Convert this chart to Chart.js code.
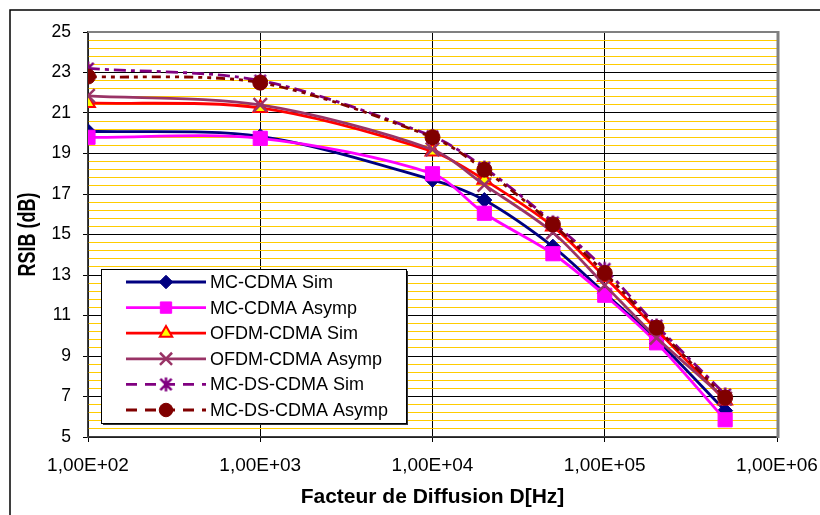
<!DOCTYPE html>
<html><head><meta charset="utf-8">
<script src="https://cdn.jsdelivr.net/npm/chart.js@4.4.1/dist/chart.umd.min.js"></script>
<style>html,body{margin:0;padding:0;background:#fff}#wrap{width:820px;height:515px;position:relative}</style>
</head><body><div id="wrap"><canvas id="c" width="820" height="515"></canvas></div>
<script>
const xValues = [1e2, 1e3, 1e4, 2e4, 5e4, 1e5, 2e5, 5e5];
const xTickValues = [1e2, 1e3, 1e4, 1e5, 1e6];
const xTickLabels = ["1,00E+02", "1,00E+03", "1,00E+04", "1,00E+05", "1,00E+06"];
const yTickValues = [5, 7, 9, 11, 13, 15, 17, 19, 21, 23, 25];
const yMinorStep = 0.4;
const seriesNames = ["MC-CDMA Sim", "MC-CDMA Asymp", "OFDM-CDMA Sim", "OFDM-CDMA Asymp", "MC-DS-CDMA Sim", "MC-DS-CDMA Asymp"];
const mcCdmaSim     = [20.1, 19.85, 17.7, 16.7, 14.4, 12.1, 9.8, 6.3];
const mcCdmaAsymp   = [19.8, 19.75, 18.0, 16.05, 14.05, 12.0, 9.65, 5.85];
const ofdmCdmaSim   = [21.5, 21.25, 19.1, 17.7, 15.4, 12.9, 10.3, 6.8];
const ofdmCdmaAsymp = [21.85, 21.4, 19.2, 17.45, 15.1, 12.5, 9.9, 6.9];
const mcDsCdmaSim   = [23.2, 22.6, 19.85, 18.3, 15.6, 13.3, 10.5, 7.1];
const mcDsCdmaAsymp = [22.8, 22.5, 19.8, 18.2, 15.5, 13.1, 10.4, 6.95];
const xTitle = "Facteur de Diffusion D[Hz]";
const yTitle = "RSIB (dB)";

// Excel-like asterisk marker
function makeAsterisk(color, size) {
  const c = document.createElement('canvas');
  c.width = size; c.height = size;
  const g = c.getContext('2d');
  const m = size / 2, r = size / 2 - 1.5;
  g.strokeStyle = color; g.lineWidth = 2.5; g.lineCap = 'butt';
  g.beginPath();
  g.moveTo(m - r * 0.8, m - r * 0.8); g.lineTo(m + r * 0.8, m + r * 0.8);
  g.moveTo(m + r * 0.8, m - r * 0.8); g.lineTo(m - r * 0.8, m + r * 0.8);
  g.moveTo(m, m - r); g.lineTo(m, m + r);
  g.stroke();
  return c;
}
const asterisk = makeAsterisk('#800080', 17);

const pts = v => xValues.map((x, i) => ({x: x, y: v[i]}));
const styles = [
  {color: '#000080', fill: '#000080', pointStyle: 'rectRot', radius: 7.5, dash: []},
  {color: '#FF00FF', fill: '#FF00FF', pointStyle: 'rect', radius: 10, dash: []},
  {color: '#FF0000', fill: '#FFFF00', pointStyle: 'triangle', radius: 8, dash: [], pbw: 2},
  {color: '#993366', fill: '#993366', pointStyle: 'crossRot', radius: 9.5, dash: [], pbw: 2.5},
  {color: '#800080', fill: '#800080', pointStyle: asterisk, radius: 8, dash: [12, 5, 4, 5]},
  {color: '#800000', fill: '#800000', pointStyle: 'circle', radius: 7.5, dash: [9, 5, 4, 5, 4, 5]},
];
const seriesData = [mcCdmaSim, mcCdmaAsymp, ofdmCdmaSim, ofdmCdmaAsymp, mcDsCdmaSim, mcDsCdmaAsymp];

const datasets = seriesData.map((d, i) => ({
  label: seriesNames[i],
  data: pts(d),
  borderColor: styles[i].color,
  backgroundColor: styles[i].fill,
  borderWidth: 2.8,
  borderDash: styles[i].dash,
  pointStyle: styles[i].pointStyle,
  pointRadius: styles[i].radius,
  pointBackgroundColor: styles[i].fill,
  pointBorderColor: styles[i].color,
  pointBorderWidth: styles[i].pbw || 1,
  tension: 0.3,
  order: -i,
  fill: false
}));

const isMajor = v => Math.abs((v - 5) / 2 - Math.round((v - 5) / 2)) < 1e-6;

const decor = {
  id: 'decor',
  beforeDraw(chart) {
    const ctx = chart.ctx;
    ctx.save();
    ctx.fillStyle = '#fff';
    ctx.fillRect(0, 0, chart.width, chart.height);
    ctx.restore();
  },
  afterDraw(chart) {
    const ctx = chart.ctx, a = chart.chartArea;
    ctx.save();
    // outer frame
    ctx.strokeStyle = '#000'; ctx.lineWidth = 1.5;
    ctx.beginPath(); ctx.moveTo(10, 515); ctx.lineTo(10, 10); ctx.lineTo(820, 10); ctx.stroke();
    // plot frame
    ctx.strokeStyle = '#808080'; ctx.lineWidth = 2;
    ctx.beginPath(); ctx.moveTo(a.left, a.top); ctx.lineTo(a.right, a.top); ctx.stroke();
    ctx.lineWidth = 3;
    ctx.beginPath(); ctx.moveTo(a.right + 1, a.top - 1); ctx.lineTo(a.right + 1, a.bottom + 1); ctx.stroke();
    // axis titles
    ctx.fillStyle = '#000';
    ctx.textAlign = 'center'; ctx.textBaseline = 'middle';
    ctx.font = 'bold 21px "Liberation Sans", Arial, sans-serif';
    ctx.fillText(xTitle, (a.left + a.right) / 2, 497);
    ctx.font = 'bold 18px "Liberation Sans", Arial, sans-serif';
    ctx.translate(29, (a.top + a.bottom) / 2);
    ctx.scale(1.3, 1);
    ctx.rotate(-Math.PI / 2);
    ctx.fillText(yTitle, 0, 0);
    ctx.restore();

    // legend
    ctx.save();
    const L = 101, T = 269, R = 406, B = 423;
    ctx.fillStyle = '#333';
    ctx.fillRect(L + 2, T + 2, R - L, B - T);
    ctx.fillStyle = '#fff';
    ctx.fillRect(L, T, R - L, B - T);
    ctx.strokeStyle = '#000'; ctx.lineWidth = 1;
    ctx.strokeRect(L + 0.5, T + 0.5, R - L, B - T);
    ctx.font = '18px "Liberation Sans", Arial, sans-serif';
    ctx.textAlign = 'left'; ctx.textBaseline = 'middle';
    chart.data.datasets.forEach((ds, i) => {
      const y = 282 + i * 25.6;
      ctx.save();
      ctx.strokeStyle = ds.borderColor; ctx.lineWidth = 2.8;
      ctx.setLineDash(ds.borderDash && ds.borderDash.length ? [11, 8] : []);
      ctx.beginPath(); ctx.moveTo(126, y); ctx.lineTo(206, y); ctx.stroke();
      ctx.restore();
      ctx.save();
      const r = ds.pointStyle === 'rect' ? ds.pointRadius * 0.8 : ds.pointRadius * 0.9;
      ctx.fillStyle = ds.pointBackgroundColor; ctx.strokeStyle = ds.pointBorderColor; ctx.lineWidth = ds.pointBorderWidth;
      Chart.helpers.drawPoint(ctx, {pointStyle: ds.pointStyle, rotation: 0, radius: r, borderWidth: ds.pointBorderWidth}, 166, y);
      ctx.restore();
      ctx.fillStyle = '#000';
      ctx.fillText(ds.label, 210, y + 1);
    });
    ctx.restore();
  }
};

new Chart(document.getElementById('c'), {
  type: 'line',
  data: {datasets},
  plugins: [decor],
  options: {
    responsive: false,
    animation: false,
    layout: {padding: {left: 0, top: 32, right: 43, bottom: 0}},
    plugins: {legend: {display: false}, tooltip: {enabled: false}},
    scales: {
      x: {
        type: 'logarithmic', min: 1e2, max: 1e6,
        afterBuildTicks: s => { s.ticks = xTickValues.map(v => ({value: v})); },
        afterFit: s => { s.height = 78; s.paddingLeft = 0; s.paddingRight = 0; },
        ticks: {
          autoSkip: false, maxRotation: 0, padding: 12, color: '#000',
          font: {family: '"Liberation Sans", Arial, sans-serif', size: 19},
          callback: (v) => { const k = xTickValues.indexOf(v); return k >= 0 ? xTickLabels[k] : ''; }
        },
        grid: {color: '#000', lineWidth: 1, tickLength: 5, tickColor: '#000', drawTicks: true},
        border: {color: '#404040', width: 1.5}
      },
      y: {
        type: 'linear', min: 5, max: 25,
        afterBuildTicks: s => {
          const t = [];
          const n = Math.round((yTickValues[yTickValues.length - 1] - yTickValues[0]) / yMinorStep);
          for (let k = 0; k <= n; k++) t.push({value: +(yTickValues[0] + k * yMinorStep).toFixed(4)});
          s.ticks = t;
        },
        afterFit: s => { s.width = 88; s.paddingTop = 0; s.paddingBottom = 0; },
        ticks: {
          autoSkip: false, padding: 12, color: '#000',
          font: {family: '"Liberation Sans", Arial, sans-serif', size: 17.5},
          callback: (v) => yTickValues.some(t => Math.abs(t - v) < 1e-6) ? String(Math.round(v)) : ''
        },
        grid: {
          lineWidth: 1, tickLength: 5,
          color: c => isMajor(c.tick.value) ? '#000' : '#FFCC00',
          tickColor: c => isMajor(c.tick.value) ? '#000' : 'rgba(0,0,0,0)'
        },
        border: {color: '#404040', width: 1.5}
      }
    }
  }
});
</script></body></html>
